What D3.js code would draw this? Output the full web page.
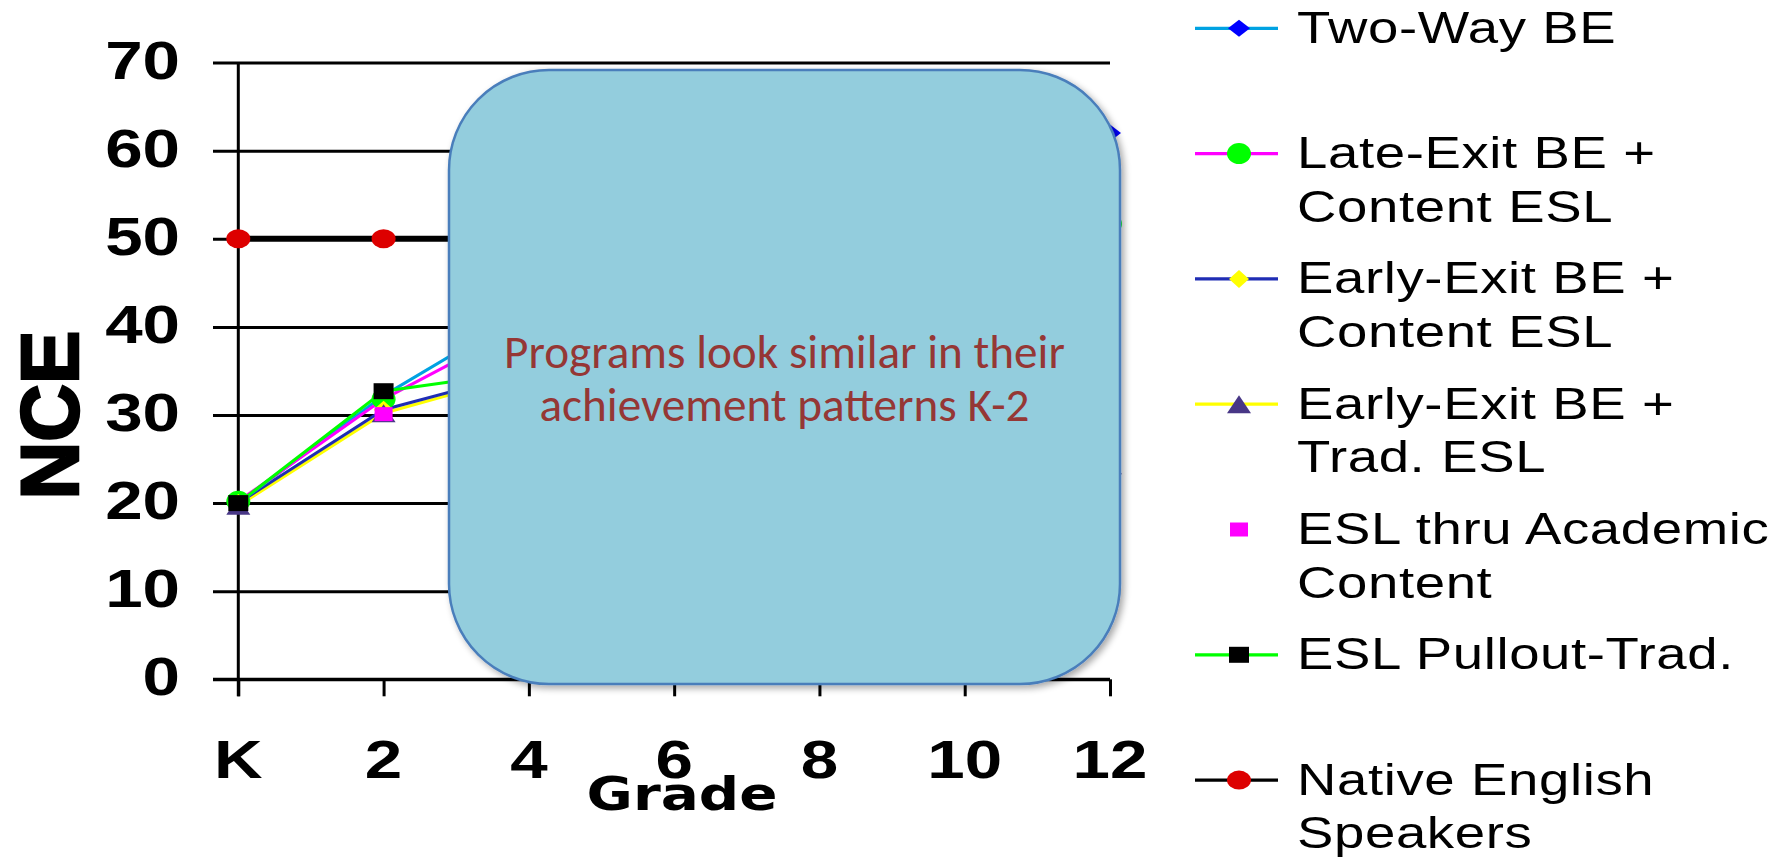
<!DOCTYPE html>
<html>
<head>
<meta charset="utf-8">
<script src="https://cdn.jsdelivr.net/npm/d3@7"></script>
<style>
  html, body { margin: 0; padding: 0; background: #ffffff; overflow: hidden; }
  svg { display: block; }
</style>
</head>
<body>
<svg id="chart" width="1781" height="860"></svg>
<script>
// ---- data: NCE scores by grade (K = 0) ----
const grades = [0, 2, 4, 6, 8, 10, 12];
const gradeLabels = ["K", "2", "4", "6", "8", "10", "12"];
const nceTicks = [0, 10, 20, 30, 40, 50, 60, 70];

const twoWayBE          = [20.0, 32.2, 42.0, 48.0, 53.0, 58.0, 62.0];
const lateExitContent   = [20.2, 31.8, 40.5, 44.0, 47.5, 50.0, 51.7];
const earlyExitContent  = [20.0, 30.6, 35.0, 36.5, 37.5, 38.0, 38.2];
const earlyExitTrad     = [19.7, 30.2, 34.8, 32.0, 29.0, 26.5, 24.3];
const eslAcademic       = [20.0, 30.1, 28.0, 26.0, 23.0, 21.0, null];
const eslPullout        = [20.0, 32.7, 35.0, 30.0, 24.0, 18.0, 13.8];
const nativeEnglish     = [50.0, 50.0, 50.0, 50.0, 50.0, 50.0, null];

const seriesNames = [
  ["Two-Way BE"],
  ["Late-Exit BE +", "Content ESL"],
  ["Early-Exit BE +", "Content ESL"],
  ["Early-Exit BE +", "Trad. ESL"],
  ["ESL thru Academic", "Content"],
  ["ESL Pullout-Trad."],
  ["Native English", "Speakers"]
];

const calloutLines = ["Programs look similar in their", "achievement patterns K-2"];

// ---- series styling ----
const seriesStyle = [
  { values: twoWayBE,         line: "#00A2E2", width: 3, marker: "diamond",  fill: "#0000FF", mw: 11, mh: 8.5 },
  { values: lateExitContent,  line: "#FF00FF", width: 3, marker: "circle",   fill: "#00FF00", mw: 12, mh: 10.5 },
  { values: earlyExitContent, line: "#1F2DB4", width: 3, marker: "diamond",  fill: "#FFFF00", mw: 10, mh: 9 },
  { values: earlyExitTrad,    line: "#FFFF00", width: 3, marker: "triangle", fill: "#483786", mw: 12, mh: 9 },
  { values: eslAcademic,      line: null,      width: 0, marker: "square",   fill: "#FF00FF", mw: 9,  mh: 7 },
  { values: eslPullout,       line: "#00FF00", width: 3, marker: "square",   fill: "#000000", mw: 10, mh: 8 },
  { values: nativeEnglish,    line: "#000000", width: 6, marker: "circle",   fill: "#DD0000", mw: 12, mh: 9.5 }
];
// stacking of the connecting lines, bottom first
const lineOrder = [3, 2, 0, 1, 5, 6];

const svg = d3.select("#chart");

// ---- scales ----
const x = d3.scaleLinear().domain([0, 12]).range([238.3, 1110]);
const y = d3.scaleLinear().domain([0, 70]).range([679.3, 62.6]);
const gridLeft = 213;

// horizontal grid lines
const yAxis = d3.axisRight(y)
  .tickValues(nceTicks)
  .tickSize(x.range()[1] - gridLeft)
  .tickFormat("");
const yAxisG = svg.append("g")
  .attr("transform", `translate(${gridLeft},0)`)
  .call(yAxis);
yAxisG.select(".domain").remove();
yAxisG.selectAll(".tick line")
  .attr("stroke", "#000").attr("stroke-width", 3);

// y tick labels (the chart text is stretched horizontally)
const tickStretch = 1.27;
svg.append("g").selectAll("text")
  .data(nceTicks)
  .join("text")
  .attr("transform", d => `translate(180,${y(d) + 16}) scale(${tickStretch},1)`)
  .attr("text-anchor", "end")
  .attr("font-family", "'Liberation Sans', Arial, sans-serif")
  .attr("font-weight", "bold")
  .attr("font-size", 53)
  .attr("fill", "#000")
  .text(d => d);

// x axis with downward ticks
const xAxis = d3.axisBottom(x)
  .tickValues(grades)
  .tickSize(17)
  .tickFormat("");
const xAxisG = svg.append("g")
  .attr("transform", `translate(0,${y(0)})`)
  .call(xAxis);
xAxisG.select(".domain").remove();
xAxisG.selectAll(".tick line").attr("stroke", "#000").attr("stroke-width", 3);
svg.append("line")
  .attr("x1", gridLeft).attr("x2", x(12))
  .attr("y1", y(0)).attr("y2", y(0))
  .attr("stroke", "#000").attr("stroke-width", 3);

// vertical axis line
svg.append("line")
  .attr("x1", x(0)).attr("x2", x(0))
  .attr("y1", y(70)).attr("y2", y(0) + 17)
  .attr("stroke", "#000").attr("stroke-width", 3);

// x tick labels
svg.append("g").selectAll("text")
  .data(grades)
  .join("text")
  .attr("transform", (d) => `translate(${x(d)},778) scale(${tickStretch},1)`)
  .attr("text-anchor", "middle")
  .attr("font-family", "'Liberation Sans', Arial, sans-serif")
  .attr("font-weight", "bold")
  .attr("font-size", 53)
  .attr("fill", "#000")
  .text((d, i) => gradeLabels[i]);

// axis titles
svg.append("text")
  .attr("transform", `translate(682,810) scale(1.2,1)`)
  .attr("text-anchor", "middle")
  .attr("font-family", "'DejaVu Sans', Verdana, sans-serif")
  .attr("font-weight", "bold")
  .attr("font-size", 47)
  .attr("fill", "#000")
  .text("Grade");

svg.append("text")
  .attr("transform", `translate(78,415) rotate(-90) scale(1,1.02)`)
  .attr("text-anchor", "middle")
  .attr("font-family", "'Liberation Sans', Arial, sans-serif")
  .attr("font-weight", "bold")
  .attr("font-size", 80)
  .attr("fill", "#000")
  .attr("stroke", "#000").attr("stroke-width", 2.5)
  .text("NCE");

// ---- marker shapes ----
function markerPath(type, w, h) {
  if (type === "diamond") return `M0,${-h}L${w},0L0,${h}L${-w},0Z`;
  if (type === "triangle") return `M0,${-h}L${w},${h}L${-w},${h}Z`;
  if (type === "square") return `M${-w},${-h}H${w}V${h}H${-w}Z`;
  return `M${-w},0A${w},${h} 0 1,0 ${w},0A${w},${h} 0 1,0 ${-w},0Z`;
}

// ---- series lines and markers ----
const lineGen = d3.line()
  .defined(d => d[1] != null)
  .x(d => x(d[0]))
  .y(d => y(d[1]));

const linesG = svg.append("g");
lineOrder.forEach(idx => {
  const s = seriesStyle[idx];
  const pts = grades.map((g, i) => [g, s.values[i]]);
  linesG.append("path")
    .attr("d", lineGen(pts))
    .attr("fill", "none")
    .attr("stroke", s.line)
    .attr("stroke-width", s.width);
});

const markersG = svg.append("g");
seriesStyle.forEach(s => {
  const pts = grades.map((g, i) => [g, s.values[i]]).filter(p => p[1] != null);
  markersG.append("g").selectAll("path")
    .data(pts)
    .join("path")
    .attr("transform", p => `translate(${x(p[0])},${y(p[1])})`)
    .attr("d", markerPath(s.marker, s.mw, s.mh))
    .attr("fill", s.fill);
});

// ---- legend ----
const legendX = 1195, legendLineEnd = 1278, legendMarkX = 1239, legendTextX = 1297;
const legendTop = 28.3, legendStep = 125.3;
const legend = svg.append("g");
seriesStyle.forEach((s, i) => {
  const ly = legendTop + i * legendStep;
  if (s.line) {
    legend.append("line")
      .attr("x1", legendX).attr("x2", legendLineEnd)
      .attr("y1", ly).attr("y2", ly)
      .attr("stroke", s.line).attr("stroke-width", 3.3);
  }
  legend.append("path")
    .attr("transform", `translate(${legendMarkX},${ly})`)
    .attr("d", markerPath(s.marker, s.mw, s.mh))
    .attr("fill", s.fill);
  seriesNames[i].forEach((t, k) => {
    legend.append("text")
      .attr("transform", `translate(${legendTextX},${ly + 14.5 + k * 53.5}) scale(1.24,1)`)
      .attr("font-family", "'Liberation Sans', Arial, sans-serif")
      .attr("font-size", 44)
      .attr("letter-spacing", 0.5)
      .attr("fill", "#000")
      .text(t);
  });
});

// ---- callout box ----
const defs = svg.append("defs");
const shadow = defs.append("filter").attr("id", "boxShadow")
  .attr("x", "-5%").attr("y", "-5%").attr("width", "115%").attr("height", "115%");
shadow.append("feGaussianBlur").attr("in", "SourceAlpha").attr("stdDeviation", 3.5).attr("result", "blur");
shadow.append("feOffset").attr("in", "blur").attr("dx", 3).attr("dy", 3).attr("result", "off");
shadow.append("feComponentTransfer").attr("in", "off").attr("result", "soft")
  .append("feFuncA").attr("type", "linear").attr("slope", 0.35);
const merge = shadow.append("feMerge");
merge.append("feMergeNode").attr("in", "soft");
merge.append("feMergeNode").attr("in", "SourceGraphic");

const box = { left: 449, top: 70, right: 1120, bottom: 684 };
svg.append("rect")
  .attr("x", box.left).attr("y", box.top)
  .attr("width", box.right - box.left).attr("height", box.bottom - box.top)
  .attr("rx", 100).attr("ry", 100)
  .attr("fill", "#93CDDD")
  .attr("stroke", "#4A7EBB").attr("stroke-width", 2.5)
  .attr("filter", "url(#boxShadow)");

const cx = (box.left + box.right) / 2;
const calloutText = svg.append("g").selectAll("text")
  .data(calloutLines)
  .join("text")
  .attr("x", cx)
  .attr("y", (d, i) => 368 + i * 53)
  .attr("text-anchor", "middle")
  .attr("font-family", "Carlito, Lato, 'Open Sans', sans-serif")
  .attr("font-size", 40)
  .attr("fill", "#953735")
  .text(d => d);
// fit the first line to the box's text width
const w0 = calloutText.nodes()[0].getComputedTextLength();
calloutText.attr("font-size", 40 * 561 / w0);
</script>
</body>
</html>
